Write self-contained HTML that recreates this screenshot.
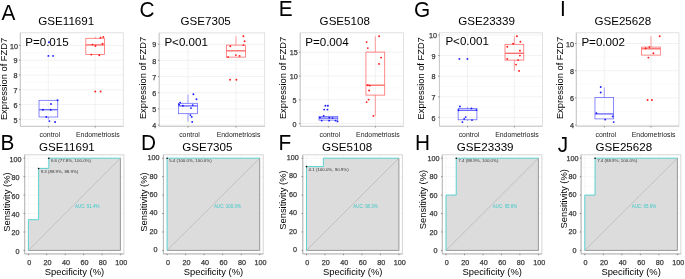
<!DOCTYPE html>
<html><head><meta charset="utf-8"><style>
html,body{margin:0;padding:0;background:#fff;}
svg{display:block;will-change:transform;}
text{font-family:"Liberation Sans", sans-serif;}
</style></head><body>
<svg width="685" height="279" viewBox="0 0 685 279">
<rect width="685" height="279" fill="#fff"/>
<line x1="20.3" x2="123.3" y1="45.4" y2="45.4" stroke="#ececec" stroke-width="0.7"/>
<line x1="20.3" x2="123.3" y1="60.2" y2="60.2" stroke="#ececec" stroke-width="0.7"/>
<line x1="20.3" x2="123.3" y1="75.0" y2="75.0" stroke="#ececec" stroke-width="0.7"/>
<line x1="20.3" x2="123.3" y1="89.8" y2="89.8" stroke="#ececec" stroke-width="0.7"/>
<line x1="20.3" x2="123.3" y1="104.6" y2="104.6" stroke="#ececec" stroke-width="0.7"/>
<line x1="20.3" x2="123.3" y1="119.4" y2="119.4" stroke="#ececec" stroke-width="0.7"/>
<line x1="20.3" x2="123.3" y1="52.8" y2="52.8" stroke="#f5f5f5" stroke-width="0.5"/>
<line x1="20.3" x2="123.3" y1="67.6" y2="67.6" stroke="#f5f5f5" stroke-width="0.5"/>
<line x1="20.3" x2="123.3" y1="82.4" y2="82.4" stroke="#f5f5f5" stroke-width="0.5"/>
<line x1="20.3" x2="123.3" y1="97.19999999999999" y2="97.19999999999999" stroke="#f5f5f5" stroke-width="0.5"/>
<line x1="20.3" x2="123.3" y1="112.0" y2="112.0" stroke="#f5f5f5" stroke-width="0.5"/>
<line x1="48.39" x2="48.39" y1="32.8" y2="126.3" stroke="#ececec" stroke-width="0.7"/>
<line x1="95.21" x2="95.21" y1="32.8" y2="126.3" stroke="#ececec" stroke-width="0.7"/>
<rect x="20.3" y="32.8" width="103.00" height="93.50" fill="none" stroke="#dadada" stroke-width="0.8"/>
<polyline points="20.3,32.8 20.3,126.3 123.3,126.3" fill="none" stroke="#c4c4c4" stroke-width="0.9"/>
<line x1="19.0" x2="20.3" y1="45.4" y2="45.4" stroke="#333" stroke-width="0.5"/>
<text x="17.90" y="48.60" font-size="7.2" fill="#3a3a3a" text-anchor="end" stroke="#3a3a3a" stroke-width="0.25">10</text>
<line x1="19.0" x2="20.3" y1="60.2" y2="60.2" stroke="#333" stroke-width="0.5"/>
<text x="17.40" y="63.40" font-size="7.2" fill="#3a3a3a" text-anchor="end" stroke="#3a3a3a" stroke-width="0.25">9</text>
<line x1="19.0" x2="20.3" y1="75.0" y2="75.0" stroke="#333" stroke-width="0.5"/>
<text x="17.40" y="78.20" font-size="7.2" fill="#3a3a3a" text-anchor="end" stroke="#3a3a3a" stroke-width="0.25">8</text>
<line x1="19.0" x2="20.3" y1="89.8" y2="89.8" stroke="#333" stroke-width="0.5"/>
<text x="17.40" y="93.00" font-size="7.2" fill="#3a3a3a" text-anchor="end" stroke="#3a3a3a" stroke-width="0.25">7</text>
<line x1="19.0" x2="20.3" y1="104.6" y2="104.6" stroke="#333" stroke-width="0.5"/>
<text x="17.40" y="107.80" font-size="7.2" fill="#3a3a3a" text-anchor="end" stroke="#3a3a3a" stroke-width="0.25">6</text>
<line x1="19.0" x2="20.3" y1="119.4" y2="119.4" stroke="#333" stroke-width="0.5"/>
<text x="17.40" y="122.60" font-size="7.2" fill="#3a3a3a" text-anchor="end" stroke="#3a3a3a" stroke-width="0.25">5</text>
<line x1="48.39" x2="48.39" y1="126.3" y2="127.6" stroke="#333" stroke-width="0.5"/>
<line x1="95.21" x2="95.21" y1="126.3" y2="127.6" stroke="#333" stroke-width="0.5"/>
<text x="49.89" y="136.80" font-size="6.9" fill="#1a1a1a" text-anchor="middle" >control</text>
<text x="97.81" y="136.80" font-size="6.9" fill="#1a1a1a" text-anchor="middle" >Endometriosis</text>
<line x1="48.39" x2="48.39" y1="117.0" y2="119.5" stroke="#6262ff" stroke-width="0.6"/>
<line x1="48.39" x2="48.39" y1="100.3" y2="100.3" stroke="#6262ff" stroke-width="0.6"/>
<rect x="39.03" y="100.3" width="18.73" height="16.70" fill="none" stroke="#6262ff" stroke-width="0.75"/>
<line x1="39.03" x2="57.75" y1="109.7" y2="109.7" stroke="#6262ff" stroke-width="1.3"/>
<circle cx="57.6" cy="100.3" r="0.95" fill="#1a1aff"/>
<circle cx="51" cy="104" r="0.95" fill="#1a1aff"/>
<circle cx="42.9" cy="109.7" r="0.95" fill="#1a1aff"/>
<circle cx="50.7" cy="109.7" r="0.95" fill="#1a1aff"/>
<circle cx="46.3" cy="117" r="0.95" fill="#1a1aff"/>
<circle cx="49.4" cy="121.1" r="0.95" fill="#1a1aff"/>
<circle cx="55.1" cy="122" r="0.95" fill="#1a1aff"/>
<circle cx="48.9" cy="42.2" r="0.95" fill="#1a1aff"/>
<circle cx="48.4" cy="55.9" r="0.95" fill="#1a1aff"/>
<circle cx="53" cy="55.9" r="0.95" fill="#1a1aff"/>
<line x1="95.21" x2="95.21" y1="54.5" y2="54.5" stroke="#ff6262" stroke-width="0.6"/>
<line x1="95.21" x2="95.21" y1="38.3" y2="36.9" stroke="#ff6262" stroke-width="0.6"/>
<rect x="85.85" y="38.3" width="18.73" height="16.20" fill="none" stroke="#ff6262" stroke-width="0.75"/>
<line x1="85.85" x2="104.57" y1="44.9" y2="44.9" stroke="#ff6262" stroke-width="1.3"/>
<circle cx="100.5" cy="37.8" r="0.95" fill="#ff1a1a"/>
<circle cx="103.3" cy="36.9" r="0.95" fill="#ff1a1a"/>
<circle cx="102.5" cy="43.7" r="0.95" fill="#ff1a1a"/>
<circle cx="92.5" cy="44.6" r="0.95" fill="#ff1a1a"/>
<circle cx="95.4" cy="46" r="0.95" fill="#ff1a1a"/>
<circle cx="91.3" cy="54.6" r="0.95" fill="#ff1a1a"/>
<circle cx="99.3" cy="55.3" r="0.95" fill="#ff1a1a"/>
<circle cx="95.3" cy="91.5" r="0.95" fill="#ff1a1a"/>
<circle cx="100.6" cy="91.5" r="0.95" fill="#ff1a1a"/>
<text transform="translate(1.60,19.50) scale(1.0,1.07)" font-size="20.8" fill="#000" text-anchor="start" >A</text>
<text x="66.25" y="25.20" font-size="11.6" fill="#000" text-anchor="middle" >GSE11691</text>
<text x="25.20" y="45.60" font-size="11.6" fill="#000" text-anchor="start" >P=0.015</text>
<text transform="translate(6.70,79.00) rotate(-90)" font-size="9.3" text-anchor="middle" fill="#000">Expression of FZD7</text>
<line x1="159.2" x2="264.7" y1="44.2" y2="44.2" stroke="#ececec" stroke-width="0.7"/>
<line x1="159.2" x2="264.7" y1="60.4" y2="60.4" stroke="#ececec" stroke-width="0.7"/>
<line x1="159.2" x2="264.7" y1="76.6" y2="76.6" stroke="#ececec" stroke-width="0.7"/>
<line x1="159.2" x2="264.7" y1="92.7" y2="92.7" stroke="#ececec" stroke-width="0.7"/>
<line x1="159.2" x2="264.7" y1="108.9" y2="108.9" stroke="#ececec" stroke-width="0.7"/>
<line x1="159.2" x2="264.7" y1="125.1" y2="125.1" stroke="#ececec" stroke-width="0.7"/>
<line x1="159.2" x2="264.7" y1="52.3" y2="52.3" stroke="#f5f5f5" stroke-width="0.5"/>
<line x1="159.2" x2="264.7" y1="68.5" y2="68.5" stroke="#f5f5f5" stroke-width="0.5"/>
<line x1="159.2" x2="264.7" y1="84.65" y2="84.65" stroke="#f5f5f5" stroke-width="0.5"/>
<line x1="159.2" x2="264.7" y1="100.80000000000001" y2="100.80000000000001" stroke="#f5f5f5" stroke-width="0.5"/>
<line x1="159.2" x2="264.7" y1="117.0" y2="117.0" stroke="#f5f5f5" stroke-width="0.5"/>
<line x1="187.97" x2="187.97" y1="32.9" y2="126.3" stroke="#ececec" stroke-width="0.7"/>
<line x1="235.93" x2="235.93" y1="32.9" y2="126.3" stroke="#ececec" stroke-width="0.7"/>
<rect x="159.2" y="32.9" width="105.50" height="93.40" fill="none" stroke="#dadada" stroke-width="0.8"/>
<polyline points="159.2,32.9 159.2,126.3 264.7,126.3" fill="none" stroke="#c4c4c4" stroke-width="0.9"/>
<line x1="157.89999999999998" x2="159.2" y1="44.2" y2="44.2" stroke="#333" stroke-width="0.5"/>
<text x="156.30" y="47.40" font-size="7.2" fill="#3a3a3a" text-anchor="end" stroke="#3a3a3a" stroke-width="0.25">9</text>
<line x1="157.89999999999998" x2="159.2" y1="60.4" y2="60.4" stroke="#333" stroke-width="0.5"/>
<text x="156.30" y="63.60" font-size="7.2" fill="#3a3a3a" text-anchor="end" stroke="#3a3a3a" stroke-width="0.25">8</text>
<line x1="157.89999999999998" x2="159.2" y1="76.6" y2="76.6" stroke="#333" stroke-width="0.5"/>
<text x="156.30" y="79.80" font-size="7.2" fill="#3a3a3a" text-anchor="end" stroke="#3a3a3a" stroke-width="0.25">7</text>
<line x1="157.89999999999998" x2="159.2" y1="92.7" y2="92.7" stroke="#333" stroke-width="0.5"/>
<text x="156.30" y="95.90" font-size="7.2" fill="#3a3a3a" text-anchor="end" stroke="#3a3a3a" stroke-width="0.25">6</text>
<line x1="157.89999999999998" x2="159.2" y1="108.9" y2="108.9" stroke="#333" stroke-width="0.5"/>
<text x="156.30" y="112.10" font-size="7.2" fill="#3a3a3a" text-anchor="end" stroke="#3a3a3a" stroke-width="0.25">5</text>
<line x1="157.89999999999998" x2="159.2" y1="125.1" y2="125.1" stroke="#333" stroke-width="0.5"/>
<text x="156.30" y="128.30" font-size="7.2" fill="#3a3a3a" text-anchor="end" stroke="#3a3a3a" stroke-width="0.25">4</text>
<line x1="187.97" x2="187.97" y1="126.3" y2="127.6" stroke="#333" stroke-width="0.5"/>
<line x1="235.93" x2="235.93" y1="126.3" y2="127.6" stroke="#333" stroke-width="0.5"/>
<text x="189.47" y="136.80" font-size="6.9" fill="#1a1a1a" text-anchor="middle" >control</text>
<text x="238.53" y="136.80" font-size="6.9" fill="#1a1a1a" text-anchor="middle" >Endometriosis</text>
<line x1="187.97" x2="187.97" y1="113.7" y2="121.7" stroke="#6262ff" stroke-width="0.6"/>
<line x1="187.97" x2="187.97" y1="103.3" y2="94.5" stroke="#6262ff" stroke-width="0.6"/>
<rect x="178.38" y="103.3" width="19.18" height="10.40" fill="none" stroke="#6262ff" stroke-width="0.75"/>
<line x1="178.38" x2="197.56" y1="105.9" y2="105.9" stroke="#6262ff" stroke-width="1.3"/>
<circle cx="193.4" cy="94.3" r="0.95" fill="#1a1aff"/>
<circle cx="196.5" cy="99.3" r="0.95" fill="#1a1aff"/>
<circle cx="180.2" cy="102.6" r="0.95" fill="#1a1aff"/>
<circle cx="182.9" cy="105.8" r="0.95" fill="#1a1aff"/>
<circle cx="179.1" cy="104.6" r="0.95" fill="#1a1aff"/>
<circle cx="192.7" cy="105.1" r="0.95" fill="#1a1aff"/>
<circle cx="191" cy="108.1" r="0.95" fill="#1a1aff"/>
<circle cx="190.4" cy="115.1" r="0.95" fill="#1a1aff"/>
<circle cx="191.7" cy="116.9" r="0.95" fill="#1a1aff"/>
<circle cx="192.2" cy="121.9" r="0.95" fill="#1a1aff"/>
<line x1="235.93" x2="235.93" y1="57.1" y2="57.1" stroke="#ff6262" stroke-width="0.6"/>
<line x1="235.93" x2="235.93" y1="45.1" y2="36.3" stroke="#ff6262" stroke-width="0.6"/>
<rect x="226.34" y="45.1" width="19.18" height="12.00" fill="none" stroke="#ff6262" stroke-width="0.75"/>
<line x1="226.34" x2="245.52" y1="50.8" y2="50.8" stroke="#ff6262" stroke-width="1.3"/>
<circle cx="243.4" cy="36.3" r="0.95" fill="#ff1a1a"/>
<circle cx="244.6" cy="41.3" r="0.95" fill="#ff1a1a"/>
<circle cx="243.4" cy="45.1" r="0.95" fill="#ff1a1a"/>
<circle cx="230.3" cy="46.3" r="0.95" fill="#ff1a1a"/>
<circle cx="228.1" cy="57.1" r="0.95" fill="#ff1a1a"/>
<circle cx="235.9" cy="55.1" r="0.95" fill="#ff1a1a"/>
<circle cx="239.6" cy="55.9" r="0.95" fill="#ff1a1a"/>
<circle cx="230.1" cy="79.7" r="0.95" fill="#ff1a1a"/>
<circle cx="236.4" cy="79.7" r="0.95" fill="#ff1a1a"/>
<text transform="translate(139.60,16.90) scale(1.0,1.07)" font-size="20.8" fill="#000" text-anchor="start" >C</text>
<text x="205.70" y="25.20" font-size="11.6" fill="#000" text-anchor="middle" >GSE7305</text>
<text x="164.40" y="45.60" font-size="11.6" fill="#000" text-anchor="start" >P&lt;0.001</text>
<text transform="translate(146.10,78.00) rotate(-90)" font-size="9.3" text-anchor="middle" fill="#000">Expression of FZD7</text>
<line x1="300.2" x2="403.5" y1="52.2" y2="52.2" stroke="#ececec" stroke-width="0.7"/>
<line x1="300.2" x2="403.5" y1="76.0" y2="76.0" stroke="#ececec" stroke-width="0.7"/>
<line x1="300.2" x2="403.5" y1="99.8" y2="99.8" stroke="#ececec" stroke-width="0.7"/>
<line x1="300.2" x2="403.5" y1="123.6" y2="123.6" stroke="#ececec" stroke-width="0.7"/>
<line x1="300.2" x2="403.5" y1="64.1" y2="64.1" stroke="#f5f5f5" stroke-width="0.5"/>
<line x1="300.2" x2="403.5" y1="87.9" y2="87.9" stroke="#f5f5f5" stroke-width="0.5"/>
<line x1="300.2" x2="403.5" y1="111.69999999999999" y2="111.69999999999999" stroke="#f5f5f5" stroke-width="0.5"/>
<line x1="328.37" x2="328.37" y1="32.8" y2="126.3" stroke="#ececec" stroke-width="0.7"/>
<line x1="375.33" x2="375.33" y1="32.8" y2="126.3" stroke="#ececec" stroke-width="0.7"/>
<rect x="300.2" y="32.8" width="103.30" height="93.50" fill="none" stroke="#dadada" stroke-width="0.8"/>
<polyline points="300.2,32.8 300.2,126.3 403.5,126.3" fill="none" stroke="#c4c4c4" stroke-width="0.9"/>
<line x1="298.9" x2="300.2" y1="52.2" y2="52.2" stroke="#333" stroke-width="0.5"/>
<text x="297.80" y="55.40" font-size="7.2" fill="#3a3a3a" text-anchor="end" stroke="#3a3a3a" stroke-width="0.25">15</text>
<line x1="298.9" x2="300.2" y1="76.0" y2="76.0" stroke="#333" stroke-width="0.5"/>
<text x="297.80" y="79.20" font-size="7.2" fill="#3a3a3a" text-anchor="end" stroke="#3a3a3a" stroke-width="0.25">10</text>
<line x1="298.9" x2="300.2" y1="99.8" y2="99.8" stroke="#333" stroke-width="0.5"/>
<text x="296.60" y="103.00" font-size="7.2" fill="#3a3a3a" text-anchor="end" stroke="#3a3a3a" stroke-width="0.25">5</text>
<line x1="298.9" x2="300.2" y1="123.6" y2="123.6" stroke="#333" stroke-width="0.5"/>
<text x="296.60" y="126.80" font-size="7.2" fill="#3a3a3a" text-anchor="end" stroke="#3a3a3a" stroke-width="0.25">0</text>
<line x1="328.37" x2="328.37" y1="126.3" y2="127.6" stroke="#333" stroke-width="0.5"/>
<line x1="375.33" x2="375.33" y1="126.3" y2="127.6" stroke="#333" stroke-width="0.5"/>
<text x="329.87" y="136.80" font-size="6.9" fill="#1a1a1a" text-anchor="middle" >control</text>
<text x="377.93" y="136.80" font-size="6.9" fill="#1a1a1a" text-anchor="middle" >Endometriosis</text>
<line x1="328.37" x2="328.37" y1="120.1" y2="121.4" stroke="#6262ff" stroke-width="0.6"/>
<line x1="328.37" x2="328.37" y1="116.4" y2="116.4" stroke="#6262ff" stroke-width="0.6"/>
<rect x="318.98" y="116.4" width="18.78" height="3.70" fill="none" stroke="#6262ff" stroke-width="0.75"/>
<line x1="318.98" x2="337.76" y1="118.1" y2="118.1" stroke="#6262ff" stroke-width="1.3"/>
<circle cx="325.4" cy="105.8" r="0.95" fill="#1a1aff"/>
<circle cx="327.9" cy="105.8" r="0.95" fill="#1a1aff"/>
<circle cx="324.2" cy="109.6" r="0.95" fill="#1a1aff"/>
<circle cx="327.4" cy="109.6" r="0.95" fill="#1a1aff"/>
<circle cx="323.7" cy="115.9" r="0.95" fill="#1a1aff"/>
<circle cx="319.9" cy="117.6" r="0.95" fill="#1a1aff"/>
<circle cx="329.2" cy="117.6" r="0.95" fill="#1a1aff"/>
<circle cx="332.5" cy="118.1" r="0.95" fill="#1a1aff"/>
<circle cx="321.7" cy="120.6" r="0.95" fill="#1a1aff"/>
<circle cx="329.2" cy="120.6" r="0.95" fill="#1a1aff"/>
<circle cx="335.5" cy="120.6" r="0.95" fill="#1a1aff"/>
<circle cx="337.5" cy="121.4" r="0.95" fill="#1a1aff"/>
<line x1="375.33" x2="375.33" y1="95.1" y2="115.9" stroke="#ff6262" stroke-width="0.6"/>
<line x1="375.33" x2="375.33" y1="52.1" y2="36.3" stroke="#ff6262" stroke-width="0.6"/>
<rect x="365.94" y="52.1" width="18.78" height="43.00" fill="none" stroke="#ff6262" stroke-width="0.75"/>
<line x1="365.94" x2="384.72" y1="85.2" y2="85.2" stroke="#ff6262" stroke-width="1.3"/>
<circle cx="379.1" cy="36.3" r="0.95" fill="#ff1a1a"/>
<circle cx="366.6" cy="42.1" r="0.95" fill="#ff1a1a"/>
<circle cx="367.8" cy="48.1" r="0.95" fill="#ff1a1a"/>
<circle cx="381.1" cy="57.6" r="0.95" fill="#ff1a1a"/>
<circle cx="379.1" cy="63.9" r="0.95" fill="#ff1a1a"/>
<circle cx="367.8" cy="85.2" r="0.95" fill="#ff1a1a"/>
<circle cx="369.8" cy="85.6" r="0.95" fill="#ff1a1a"/>
<circle cx="369.1" cy="90.5" r="0.95" fill="#ff1a1a"/>
<circle cx="368.6" cy="99.6" r="0.95" fill="#ff1a1a"/>
<circle cx="366.6" cy="102.1" r="0.95" fill="#ff1a1a"/>
<circle cx="373.4" cy="115.9" r="0.95" fill="#ff1a1a"/>
<text transform="translate(278.80,16.30) scale(1.0,1.07)" font-size="20.8" fill="#000" text-anchor="start" >E</text>
<text x="344.75" y="25.20" font-size="11.6" fill="#000" text-anchor="middle" >GSE5108</text>
<text x="305.20" y="46.00" font-size="11.6" fill="#000" text-anchor="start" >P=0.004</text>
<text transform="translate(285.90,78.00) rotate(-90)" font-size="9.3" text-anchor="middle" fill="#000">Expression of FZD7</text>
<line x1="439.4" x2="542.5" y1="35.0" y2="35.0" stroke="#ececec" stroke-width="0.7"/>
<line x1="439.4" x2="542.5" y1="55.6" y2="55.6" stroke="#ececec" stroke-width="0.7"/>
<line x1="439.4" x2="542.5" y1="76.2" y2="76.2" stroke="#ececec" stroke-width="0.7"/>
<line x1="439.4" x2="542.5" y1="96.8" y2="96.8" stroke="#ececec" stroke-width="0.7"/>
<line x1="439.4" x2="542.5" y1="117.4" y2="117.4" stroke="#ececec" stroke-width="0.7"/>
<line x1="439.4" x2="542.5" y1="45.3" y2="45.3" stroke="#f5f5f5" stroke-width="0.5"/>
<line x1="439.4" x2="542.5" y1="65.9" y2="65.9" stroke="#f5f5f5" stroke-width="0.5"/>
<line x1="439.4" x2="542.5" y1="86.5" y2="86.5" stroke="#f5f5f5" stroke-width="0.5"/>
<line x1="439.4" x2="542.5" y1="107.1" y2="107.1" stroke="#f5f5f5" stroke-width="0.5"/>
<line x1="467.52" x2="467.52" y1="32.8" y2="126.2" stroke="#ececec" stroke-width="0.7"/>
<line x1="514.38" x2="514.38" y1="32.8" y2="126.2" stroke="#ececec" stroke-width="0.7"/>
<rect x="439.4" y="32.8" width="103.10" height="93.40" fill="none" stroke="#dadada" stroke-width="0.8"/>
<polyline points="439.4,32.8 439.4,126.2 542.5,126.2" fill="none" stroke="#c4c4c4" stroke-width="0.9"/>
<line x1="438.09999999999997" x2="439.4" y1="35.0" y2="35.0" stroke="#333" stroke-width="0.5"/>
<text x="437.00" y="38.20" font-size="7.2" fill="#3a3a3a" text-anchor="end" stroke="#3a3a3a" stroke-width="0.25">10</text>
<line x1="438.09999999999997" x2="439.4" y1="55.6" y2="55.6" stroke="#333" stroke-width="0.5"/>
<text x="435.50" y="58.80" font-size="7.2" fill="#3a3a3a" text-anchor="end" stroke="#3a3a3a" stroke-width="0.25">9</text>
<line x1="438.09999999999997" x2="439.4" y1="76.2" y2="76.2" stroke="#333" stroke-width="0.5"/>
<text x="435.50" y="79.40" font-size="7.2" fill="#3a3a3a" text-anchor="end" stroke="#3a3a3a" stroke-width="0.25">8</text>
<line x1="438.09999999999997" x2="439.4" y1="96.8" y2="96.8" stroke="#333" stroke-width="0.5"/>
<text x="435.50" y="100.00" font-size="7.2" fill="#3a3a3a" text-anchor="end" stroke="#3a3a3a" stroke-width="0.25">7</text>
<line x1="438.09999999999997" x2="439.4" y1="117.4" y2="117.4" stroke="#333" stroke-width="0.5"/>
<text x="435.50" y="120.60" font-size="7.2" fill="#3a3a3a" text-anchor="end" stroke="#3a3a3a" stroke-width="0.25">6</text>
<line x1="467.52" x2="467.52" y1="126.2" y2="127.5" stroke="#333" stroke-width="0.5"/>
<line x1="514.38" x2="514.38" y1="126.2" y2="127.5" stroke="#333" stroke-width="0.5"/>
<text x="469.02" y="136.70" font-size="6.9" fill="#1a1a1a" text-anchor="middle" >control</text>
<text x="516.98" y="136.70" font-size="6.9" fill="#1a1a1a" text-anchor="middle" >Endometriosis</text>
<line x1="467.52" x2="467.52" y1="119.8" y2="121.0" stroke="#6262ff" stroke-width="0.6"/>
<line x1="467.52" x2="467.52" y1="108.6" y2="106.8" stroke="#6262ff" stroke-width="0.6"/>
<rect x="458.15" y="108.6" width="18.75" height="11.20" fill="none" stroke="#6262ff" stroke-width="0.75"/>
<line x1="458.15" x2="476.89" y1="110.3" y2="110.3" stroke="#6262ff" stroke-width="1.3"/>
<circle cx="459.9" cy="106.5" r="0.95" fill="#1a1aff"/>
<circle cx="471.4" cy="108.4" r="0.95" fill="#1a1aff"/>
<circle cx="458.5" cy="110.3" r="0.95" fill="#1a1aff"/>
<circle cx="476.5" cy="110.1" r="0.95" fill="#1a1aff"/>
<circle cx="465.7" cy="117.1" r="0.95" fill="#1a1aff"/>
<circle cx="464.2" cy="118.9" r="0.95" fill="#1a1aff"/>
<circle cx="472" cy="120.1" r="0.95" fill="#1a1aff"/>
<circle cx="462.4" cy="122.1" r="0.95" fill="#1a1aff"/>
<circle cx="459.4" cy="58.9" r="0.95" fill="#1a1aff"/>
<circle cx="467.4" cy="58.9" r="0.95" fill="#1a1aff"/>
<line x1="514.38" x2="514.38" y1="60.1" y2="70.7" stroke="#ff6262" stroke-width="0.6"/>
<line x1="514.38" x2="514.38" y1="44.3" y2="36.3" stroke="#ff6262" stroke-width="0.6"/>
<rect x="505.01" y="44.3" width="18.75" height="15.80" fill="none" stroke="#ff6262" stroke-width="0.75"/>
<line x1="505.01" x2="523.75" y1="53.3" y2="53.3" stroke="#ff6262" stroke-width="1.3"/>
<circle cx="516.9" cy="36.3" r="0.95" fill="#ff1a1a"/>
<circle cx="520.4" cy="41.8" r="0.95" fill="#ff1a1a"/>
<circle cx="513.1" cy="43.8" r="0.95" fill="#ff1a1a"/>
<circle cx="507.3" cy="46.8" r="0.95" fill="#ff1a1a"/>
<circle cx="519.9" cy="50.8" r="0.95" fill="#ff1a1a"/>
<circle cx="519.9" cy="55.6" r="0.95" fill="#ff1a1a"/>
<circle cx="507.3" cy="58.9" r="0.95" fill="#ff1a1a"/>
<circle cx="518.1" cy="60.1" r="0.95" fill="#ff1a1a"/>
<circle cx="516.1" cy="64.6" r="0.95" fill="#ff1a1a"/>
<circle cx="519.1" cy="70.9" r="0.95" fill="#ff1a1a"/>
<text transform="translate(413.90,16.90) scale(1.0,1.07)" font-size="20.8" fill="#000" text-anchor="start" >G</text>
<text x="486.60" y="25.20" font-size="11.6" fill="#000" text-anchor="middle" >GSE23339</text>
<text x="445.40" y="44.80" font-size="11.6" fill="#000" text-anchor="start" >P&lt;0.001</text>
<text transform="translate(423.90,78.30) rotate(-90)" font-size="9.3" text-anchor="middle" fill="#000">Expression of FZD7</text>
<line x1="576.3" x2="679.0" y1="43.5" y2="43.5" stroke="#ececec" stroke-width="0.7"/>
<line x1="576.3" x2="679.0" y1="70.7" y2="70.7" stroke="#ececec" stroke-width="0.7"/>
<line x1="576.3" x2="679.0" y1="97.9" y2="97.9" stroke="#ececec" stroke-width="0.7"/>
<line x1="576.3" x2="679.0" y1="125.1" y2="125.1" stroke="#ececec" stroke-width="0.7"/>
<line x1="576.3" x2="679.0" y1="57.1" y2="57.1" stroke="#f5f5f5" stroke-width="0.5"/>
<line x1="576.3" x2="679.0" y1="84.30000000000001" y2="84.30000000000001" stroke="#f5f5f5" stroke-width="0.5"/>
<line x1="576.3" x2="679.0" y1="111.5" y2="111.5" stroke="#f5f5f5" stroke-width="0.5"/>
<line x1="604.31" x2="604.31" y1="32.8" y2="126.2" stroke="#ececec" stroke-width="0.7"/>
<line x1="650.99" x2="650.99" y1="32.8" y2="126.2" stroke="#ececec" stroke-width="0.7"/>
<rect x="576.3" y="32.8" width="102.70" height="93.40" fill="none" stroke="#dadada" stroke-width="0.8"/>
<polyline points="576.3,32.8 576.3,126.2 679.0,126.2" fill="none" stroke="#c4c4c4" stroke-width="0.9"/>
<line x1="575.0" x2="576.3" y1="43.5" y2="43.5" stroke="#333" stroke-width="0.5"/>
<text x="573.90" y="46.70" font-size="7.2" fill="#3a3a3a" text-anchor="end" stroke="#3a3a3a" stroke-width="0.25">10</text>
<line x1="575.0" x2="576.3" y1="70.7" y2="70.7" stroke="#333" stroke-width="0.5"/>
<text x="573.90" y="73.90" font-size="7.2" fill="#3a3a3a" text-anchor="end" stroke="#3a3a3a" stroke-width="0.25">8</text>
<line x1="575.0" x2="576.3" y1="97.9" y2="97.9" stroke="#333" stroke-width="0.5"/>
<text x="573.90" y="101.10" font-size="7.2" fill="#3a3a3a" text-anchor="end" stroke="#3a3a3a" stroke-width="0.25">6</text>
<line x1="575.0" x2="576.3" y1="125.1" y2="125.1" stroke="#333" stroke-width="0.5"/>
<text x="573.90" y="128.30" font-size="7.2" fill="#3a3a3a" text-anchor="end" stroke="#3a3a3a" stroke-width="0.25">4</text>
<line x1="604.31" x2="604.31" y1="126.2" y2="127.5" stroke="#333" stroke-width="0.5"/>
<line x1="650.99" x2="650.99" y1="126.2" y2="127.5" stroke="#333" stroke-width="0.5"/>
<text x="605.81" y="136.70" font-size="6.9" fill="#1a1a1a" text-anchor="middle" >control</text>
<text x="653.59" y="136.70" font-size="6.9" fill="#1a1a1a" text-anchor="middle" >Endometriosis</text>
<line x1="604.31" x2="604.31" y1="118.9" y2="118.9" stroke="#6262ff" stroke-width="0.6"/>
<line x1="604.31" x2="604.31" y1="97.6" y2="87.5" stroke="#6262ff" stroke-width="0.6"/>
<rect x="594.97" y="97.6" width="18.67" height="21.30" fill="none" stroke="#6262ff" stroke-width="0.75"/>
<line x1="594.97" x2="613.65" y1="113.9" y2="113.9" stroke="#6262ff" stroke-width="1.3"/>
<circle cx="600.7" cy="87" r="0.95" fill="#1a1aff"/>
<circle cx="600.7" cy="92.5" r="0.95" fill="#1a1aff"/>
<circle cx="596.4" cy="113.1" r="0.95" fill="#1a1aff"/>
<circle cx="612.7" cy="116.4" r="0.95" fill="#1a1aff"/>
<circle cx="605.2" cy="119.6" r="0.95" fill="#1a1aff"/>
<circle cx="613.7" cy="122.1" r="0.95" fill="#1a1aff"/>
<line x1="650.99" x2="650.99" y1="55.1" y2="55.1" stroke="#ff6262" stroke-width="0.6"/>
<line x1="650.99" x2="650.99" y1="47.1" y2="36.3" stroke="#ff6262" stroke-width="0.6"/>
<rect x="641.65" y="47.1" width="18.67" height="8.00" fill="none" stroke="#ff6262" stroke-width="0.75"/>
<line x1="641.65" x2="660.33" y1="48.8" y2="48.8" stroke="#ff6262" stroke-width="1.3"/>
<circle cx="659.7" cy="36.3" r="0.95" fill="#ff1a1a"/>
<circle cx="649.4" cy="47.1" r="0.95" fill="#ff1a1a"/>
<circle cx="645.6" cy="48.3" r="0.95" fill="#ff1a1a"/>
<circle cx="653.4" cy="53.3" r="0.95" fill="#ff1a1a"/>
<circle cx="648.4" cy="57.6" r="0.95" fill="#ff1a1a"/>
<circle cx="647.6" cy="100" r="0.95" fill="#ff1a1a"/>
<circle cx="651.9" cy="100" r="0.95" fill="#ff1a1a"/>
<text transform="translate(560.10,15.70) scale(1.0,1.07)" font-size="20.8" fill="#000" text-anchor="start" >I</text>
<text x="622.80" y="25.20" font-size="11.6" fill="#000" text-anchor="middle" >GSE25628</text>
<text x="581.40" y="45.60" font-size="11.6" fill="#000" text-anchor="start" >P=0.002</text>
<text transform="translate(563.00,78.00) rotate(-90)" font-size="9.3" text-anchor="middle" fill="#000">Expression of FZD7</text>
<line x1="24.7" x2="123.9" y1="250.40" y2="250.40" stroke="#f0f0f0" stroke-width="0.6"/>
<line x1="28.40" x2="28.40" y1="154.8" y2="253.9" stroke="#f0f0f0" stroke-width="0.6"/>
<line x1="24.7" x2="123.9" y1="241.18" y2="241.18" stroke="#f7f7f7" stroke-width="0.6"/>
<line x1="37.60" x2="37.60" y1="154.8" y2="253.9" stroke="#f7f7f7" stroke-width="0.6"/>
<line x1="24.7" x2="123.9" y1="231.96" y2="231.96" stroke="#f0f0f0" stroke-width="0.6"/>
<line x1="46.80" x2="46.80" y1="154.8" y2="253.9" stroke="#f0f0f0" stroke-width="0.6"/>
<line x1="24.7" x2="123.9" y1="222.74" y2="222.74" stroke="#f7f7f7" stroke-width="0.6"/>
<line x1="56.00" x2="56.00" y1="154.8" y2="253.9" stroke="#f7f7f7" stroke-width="0.6"/>
<line x1="24.7" x2="123.9" y1="213.52" y2="213.52" stroke="#f0f0f0" stroke-width="0.6"/>
<line x1="65.20" x2="65.20" y1="154.8" y2="253.9" stroke="#f0f0f0" stroke-width="0.6"/>
<line x1="24.7" x2="123.9" y1="204.30" y2="204.30" stroke="#f7f7f7" stroke-width="0.6"/>
<line x1="74.40" x2="74.40" y1="154.8" y2="253.9" stroke="#f7f7f7" stroke-width="0.6"/>
<line x1="24.7" x2="123.9" y1="195.08" y2="195.08" stroke="#f0f0f0" stroke-width="0.6"/>
<line x1="83.60" x2="83.60" y1="154.8" y2="253.9" stroke="#f0f0f0" stroke-width="0.6"/>
<line x1="24.7" x2="123.9" y1="185.86" y2="185.86" stroke="#f7f7f7" stroke-width="0.6"/>
<line x1="92.80" x2="92.80" y1="154.8" y2="253.9" stroke="#f7f7f7" stroke-width="0.6"/>
<line x1="24.7" x2="123.9" y1="176.64" y2="176.64" stroke="#f0f0f0" stroke-width="0.6"/>
<line x1="102.00" x2="102.00" y1="154.8" y2="253.9" stroke="#f0f0f0" stroke-width="0.6"/>
<line x1="24.7" x2="123.9" y1="167.42" y2="167.42" stroke="#f7f7f7" stroke-width="0.6"/>
<line x1="111.20" x2="111.20" y1="154.8" y2="253.9" stroke="#f7f7f7" stroke-width="0.6"/>
<line x1="24.7" x2="123.9" y1="158.20" y2="158.20" stroke="#f0f0f0" stroke-width="0.6"/>
<line x1="120.40" x2="120.40" y1="154.8" y2="253.9" stroke="#f0f0f0" stroke-width="0.6"/>
<polygon points="28.40,250.40 28.40,219.70 38.61,219.70 38.61,168.43 48.82,168.43 48.82,158.20 120.40,158.20 120.40,250.40" fill="#dcdcdc" stroke="none"/>
<polyline points="28.40,250.40 120.40,250.40 120.40,158.20" fill="none" stroke="#8e8e8e" stroke-width="0.9"/>
<line x1="28.40" y1="250.40" x2="120.40" y2="158.20" stroke="#a4a4a4" stroke-width="0.5"/>
<polyline points="28.40,250.40 28.40,219.70 38.61,219.70 38.61,168.43 48.82,168.43 48.82,158.20 120.40,158.20" fill="none" stroke="#5cd2d2" stroke-width="1.0"/>
<rect x="24.70" y="154.8" width="99.20" height="99.10" fill="none" stroke="#d2d2d2" stroke-width="0.9"/>
<polyline points="24.70,154.8 24.70,253.9 123.90,253.9" fill="none" stroke="#b4b4b4" stroke-width="0.9"/>
<circle cx="38.61" cy="168.43" r="0.8" fill="#000"/>
<text x="40.71" y="172.53" font-size="4.4" fill="#333" text-anchor="start" >9.3 (88.9%, 88.9%)</text>
<circle cx="48.82" cy="158.20" r="0.8" fill="#000"/>
<text x="50.92" y="162.30" font-size="4.4" fill="#333" text-anchor="start" >6.6 (77.8%, 100.0%)</text>
<text x="75.00" y="207.90" font-size="4.45" fill="#3cc8c8" text-anchor="start" >AUC: 91.4%</text>
<line x1="23.40" x2="24.70" y1="250.40" y2="250.40" stroke="#333" stroke-width="0.5"/>
<text x="19.60" y="253.90" font-size="7.2" fill="#3a3a3a" text-anchor="end" stroke="#3a3a3a" stroke-width="0.25">0</text>
<line x1="28.40" x2="28.40" y1="253.9" y2="255.20000000000002" stroke="#333" stroke-width="0.5"/>
<text x="29.20" y="265.10" font-size="7.2" fill="#3a3a3a" text-anchor="middle" stroke="#3a3a3a" stroke-width="0.25">0</text>
<line x1="23.40" x2="24.70" y1="231.96" y2="231.96" stroke="#333" stroke-width="0.5"/>
<text x="19.60" y="235.46" font-size="7.2" fill="#3a3a3a" text-anchor="end" stroke="#3a3a3a" stroke-width="0.25">20</text>
<line x1="46.80" x2="46.80" y1="253.9" y2="255.20000000000002" stroke="#333" stroke-width="0.5"/>
<text x="47.60" y="265.10" font-size="7.2" fill="#3a3a3a" text-anchor="middle" stroke="#3a3a3a" stroke-width="0.25">20</text>
<line x1="23.40" x2="24.70" y1="213.52" y2="213.52" stroke="#333" stroke-width="0.5"/>
<text x="19.60" y="217.02" font-size="7.2" fill="#3a3a3a" text-anchor="end" stroke="#3a3a3a" stroke-width="0.25">40</text>
<line x1="65.20" x2="65.20" y1="253.9" y2="255.20000000000002" stroke="#333" stroke-width="0.5"/>
<text x="66.00" y="265.10" font-size="7.2" fill="#3a3a3a" text-anchor="middle" stroke="#3a3a3a" stroke-width="0.25">40</text>
<line x1="23.40" x2="24.70" y1="195.08" y2="195.08" stroke="#333" stroke-width="0.5"/>
<text x="19.60" y="198.58" font-size="7.2" fill="#3a3a3a" text-anchor="end" stroke="#3a3a3a" stroke-width="0.25">60</text>
<line x1="83.60" x2="83.60" y1="253.9" y2="255.20000000000002" stroke="#333" stroke-width="0.5"/>
<text x="84.40" y="265.10" font-size="7.2" fill="#3a3a3a" text-anchor="middle" stroke="#3a3a3a" stroke-width="0.25">60</text>
<line x1="23.40" x2="24.70" y1="176.64" y2="176.64" stroke="#333" stroke-width="0.5"/>
<text x="19.60" y="180.14" font-size="7.2" fill="#3a3a3a" text-anchor="end" stroke="#3a3a3a" stroke-width="0.25">80</text>
<line x1="102.00" x2="102.00" y1="253.9" y2="255.20000000000002" stroke="#333" stroke-width="0.5"/>
<text x="102.80" y="265.10" font-size="7.2" fill="#3a3a3a" text-anchor="middle" stroke="#3a3a3a" stroke-width="0.25">80</text>
<line x1="23.40" x2="24.70" y1="158.20" y2="158.20" stroke="#333" stroke-width="0.5"/>
<text x="21.50" y="161.70" font-size="7.2" fill="#3a3a3a" text-anchor="end" stroke="#3a3a3a" stroke-width="0.25">100</text>
<line x1="120.40" x2="120.40" y1="253.9" y2="255.20000000000002" stroke="#333" stroke-width="0.5"/>
<text x="121.20" y="265.10" font-size="7.2" fill="#3a3a3a" text-anchor="middle" stroke="#3a3a3a" stroke-width="0.25">100</text>
<text transform="translate(0.40,150.40) scale(1.0,1.07)" font-size="20.8" fill="#000" text-anchor="start" >B</text>
<text x="66.90" y="150.60" font-size="11.6" fill="#000" text-anchor="middle" >GSE11691</text>
<text x="74.40" y="275.10" font-size="9.4" fill="#000" text-anchor="middle" >Specificity (%)</text>
<text transform="translate(9.60,202.10) rotate(-90)" font-size="9.4" text-anchor="middle" fill="#000">Sensitivity (%)</text>
<line x1="163.4" x2="263.2" y1="250.40" y2="250.40" stroke="#f0f0f0" stroke-width="0.6"/>
<line x1="167.10" x2="167.10" y1="154.8" y2="253.9" stroke="#f0f0f0" stroke-width="0.6"/>
<line x1="163.4" x2="263.2" y1="241.18" y2="241.18" stroke="#f7f7f7" stroke-width="0.6"/>
<line x1="176.36" x2="176.36" y1="154.8" y2="253.9" stroke="#f7f7f7" stroke-width="0.6"/>
<line x1="163.4" x2="263.2" y1="231.96" y2="231.96" stroke="#f0f0f0" stroke-width="0.6"/>
<line x1="185.62" x2="185.62" y1="154.8" y2="253.9" stroke="#f0f0f0" stroke-width="0.6"/>
<line x1="163.4" x2="263.2" y1="222.74" y2="222.74" stroke="#f7f7f7" stroke-width="0.6"/>
<line x1="194.88" x2="194.88" y1="154.8" y2="253.9" stroke="#f7f7f7" stroke-width="0.6"/>
<line x1="163.4" x2="263.2" y1="213.52" y2="213.52" stroke="#f0f0f0" stroke-width="0.6"/>
<line x1="204.14" x2="204.14" y1="154.8" y2="253.9" stroke="#f0f0f0" stroke-width="0.6"/>
<line x1="163.4" x2="263.2" y1="204.30" y2="204.30" stroke="#f7f7f7" stroke-width="0.6"/>
<line x1="213.40" x2="213.40" y1="154.8" y2="253.9" stroke="#f7f7f7" stroke-width="0.6"/>
<line x1="163.4" x2="263.2" y1="195.08" y2="195.08" stroke="#f0f0f0" stroke-width="0.6"/>
<line x1="222.66" x2="222.66" y1="154.8" y2="253.9" stroke="#f0f0f0" stroke-width="0.6"/>
<line x1="163.4" x2="263.2" y1="185.86" y2="185.86" stroke="#f7f7f7" stroke-width="0.6"/>
<line x1="231.92" x2="231.92" y1="154.8" y2="253.9" stroke="#f7f7f7" stroke-width="0.6"/>
<line x1="163.4" x2="263.2" y1="176.64" y2="176.64" stroke="#f0f0f0" stroke-width="0.6"/>
<line x1="241.18" x2="241.18" y1="154.8" y2="253.9" stroke="#f0f0f0" stroke-width="0.6"/>
<line x1="163.4" x2="263.2" y1="167.42" y2="167.42" stroke="#f7f7f7" stroke-width="0.6"/>
<line x1="250.44" x2="250.44" y1="154.8" y2="253.9" stroke="#f7f7f7" stroke-width="0.6"/>
<line x1="163.4" x2="263.2" y1="158.20" y2="158.20" stroke="#f0f0f0" stroke-width="0.6"/>
<line x1="259.70" x2="259.70" y1="154.8" y2="253.9" stroke="#f0f0f0" stroke-width="0.6"/>
<polygon points="167.10,250.40 167.10,158.20 259.70,158.20 259.70,250.40" fill="#dcdcdc" stroke="none"/>
<polyline points="167.10,250.40 259.70,250.40 259.70,158.20" fill="none" stroke="#8e8e8e" stroke-width="0.9"/>
<line x1="167.10" y1="250.40" x2="259.70" y2="158.20" stroke="#a4a4a4" stroke-width="0.5"/>
<polyline points="167.10,250.40 167.10,158.20 259.70,158.20" fill="none" stroke="#5cd2d2" stroke-width="1.0"/>
<rect x="163.40" y="154.8" width="99.80" height="99.10" fill="none" stroke="#d2d2d2" stroke-width="0.9"/>
<polyline points="163.40,154.8 163.40,253.9 263.20,253.9" fill="none" stroke="#b4b4b4" stroke-width="0.9"/>
<circle cx="167.10" cy="158.20" r="0.8" fill="#000"/>
<text x="169.20" y="162.30" font-size="4.4" fill="#333" text-anchor="start" >5.4 (100.0%, 100.0%)</text>
<text x="214.00" y="207.90" font-size="4.45" fill="#3cc8c8" text-anchor="start" >AUC: 100.0%</text>
<line x1="162.10" x2="163.40" y1="250.40" y2="250.40" stroke="#333" stroke-width="0.5"/>
<text x="157.60" y="252.30" font-size="7.2" fill="#3a3a3a" text-anchor="end" stroke="#3a3a3a" stroke-width="0.25">0</text>
<line x1="167.10" x2="167.10" y1="253.9" y2="255.20000000000002" stroke="#333" stroke-width="0.5"/>
<text x="167.90" y="265.10" font-size="7.2" fill="#3a3a3a" text-anchor="middle" stroke="#3a3a3a" stroke-width="0.25">0</text>
<line x1="162.10" x2="163.40" y1="231.96" y2="231.96" stroke="#333" stroke-width="0.5"/>
<text x="157.60" y="233.86" font-size="7.2" fill="#3a3a3a" text-anchor="end" stroke="#3a3a3a" stroke-width="0.25">20</text>
<line x1="185.62" x2="185.62" y1="253.9" y2="255.20000000000002" stroke="#333" stroke-width="0.5"/>
<text x="186.42" y="265.10" font-size="7.2" fill="#3a3a3a" text-anchor="middle" stroke="#3a3a3a" stroke-width="0.25">20</text>
<line x1="162.10" x2="163.40" y1="213.52" y2="213.52" stroke="#333" stroke-width="0.5"/>
<text x="157.60" y="215.42" font-size="7.2" fill="#3a3a3a" text-anchor="end" stroke="#3a3a3a" stroke-width="0.25">40</text>
<line x1="204.14" x2="204.14" y1="253.9" y2="255.20000000000002" stroke="#333" stroke-width="0.5"/>
<text x="204.94" y="265.10" font-size="7.2" fill="#3a3a3a" text-anchor="middle" stroke="#3a3a3a" stroke-width="0.25">40</text>
<line x1="162.10" x2="163.40" y1="195.08" y2="195.08" stroke="#333" stroke-width="0.5"/>
<text x="157.60" y="196.98" font-size="7.2" fill="#3a3a3a" text-anchor="end" stroke="#3a3a3a" stroke-width="0.25">60</text>
<line x1="222.66" x2="222.66" y1="253.9" y2="255.20000000000002" stroke="#333" stroke-width="0.5"/>
<text x="223.46" y="265.10" font-size="7.2" fill="#3a3a3a" text-anchor="middle" stroke="#3a3a3a" stroke-width="0.25">60</text>
<line x1="162.10" x2="163.40" y1="176.64" y2="176.64" stroke="#333" stroke-width="0.5"/>
<text x="157.60" y="178.54" font-size="7.2" fill="#3a3a3a" text-anchor="end" stroke="#3a3a3a" stroke-width="0.25">80</text>
<line x1="241.18" x2="241.18" y1="253.9" y2="255.20000000000002" stroke="#333" stroke-width="0.5"/>
<text x="241.98" y="265.10" font-size="7.2" fill="#3a3a3a" text-anchor="middle" stroke="#3a3a3a" stroke-width="0.25">80</text>
<line x1="162.10" x2="163.40" y1="158.20" y2="158.20" stroke="#333" stroke-width="0.5"/>
<text x="159.50" y="160.10" font-size="7.2" fill="#3a3a3a" text-anchor="end" stroke="#3a3a3a" stroke-width="0.25">100</text>
<line x1="259.70" x2="259.70" y1="253.9" y2="255.20000000000002" stroke="#333" stroke-width="0.5"/>
<text x="260.50" y="265.10" font-size="7.2" fill="#3a3a3a" text-anchor="middle" stroke="#3a3a3a" stroke-width="0.25">100</text>
<text transform="translate(141.10,149.80) scale(1.0,1.07)" font-size="20.8" fill="#000" text-anchor="start" >D</text>
<text x="207.30" y="150.60" font-size="11.6" fill="#000" text-anchor="middle" >GSE7305</text>
<text x="213.40" y="275.10" font-size="9.4" fill="#000" text-anchor="middle" >Specificity (%)</text>
<text transform="translate(146.60,202.00) rotate(-90)" font-size="9.4" text-anchor="middle" fill="#000">Sensitivity (%)</text>
<line x1="302.8" x2="402.4" y1="250.40" y2="250.40" stroke="#f0f0f0" stroke-width="0.6"/>
<line x1="306.50" x2="306.50" y1="154.8" y2="253.9" stroke="#f0f0f0" stroke-width="0.6"/>
<line x1="302.8" x2="402.4" y1="241.18" y2="241.18" stroke="#f7f7f7" stroke-width="0.6"/>
<line x1="315.74" x2="315.74" y1="154.8" y2="253.9" stroke="#f7f7f7" stroke-width="0.6"/>
<line x1="302.8" x2="402.4" y1="231.96" y2="231.96" stroke="#f0f0f0" stroke-width="0.6"/>
<line x1="324.98" x2="324.98" y1="154.8" y2="253.9" stroke="#f0f0f0" stroke-width="0.6"/>
<line x1="302.8" x2="402.4" y1="222.74" y2="222.74" stroke="#f7f7f7" stroke-width="0.6"/>
<line x1="334.22" x2="334.22" y1="154.8" y2="253.9" stroke="#f7f7f7" stroke-width="0.6"/>
<line x1="302.8" x2="402.4" y1="213.52" y2="213.52" stroke="#f0f0f0" stroke-width="0.6"/>
<line x1="343.46" x2="343.46" y1="154.8" y2="253.9" stroke="#f0f0f0" stroke-width="0.6"/>
<line x1="302.8" x2="402.4" y1="204.30" y2="204.30" stroke="#f7f7f7" stroke-width="0.6"/>
<line x1="352.70" x2="352.70" y1="154.8" y2="253.9" stroke="#f7f7f7" stroke-width="0.6"/>
<line x1="302.8" x2="402.4" y1="195.08" y2="195.08" stroke="#f0f0f0" stroke-width="0.6"/>
<line x1="361.94" x2="361.94" y1="154.8" y2="253.9" stroke="#f0f0f0" stroke-width="0.6"/>
<line x1="302.8" x2="402.4" y1="185.86" y2="185.86" stroke="#f7f7f7" stroke-width="0.6"/>
<line x1="371.18" x2="371.18" y1="154.8" y2="253.9" stroke="#f7f7f7" stroke-width="0.6"/>
<line x1="302.8" x2="402.4" y1="176.64" y2="176.64" stroke="#f0f0f0" stroke-width="0.6"/>
<line x1="380.42" x2="380.42" y1="154.8" y2="253.9" stroke="#f0f0f0" stroke-width="0.6"/>
<line x1="302.8" x2="402.4" y1="167.42" y2="167.42" stroke="#f7f7f7" stroke-width="0.6"/>
<line x1="389.66" x2="389.66" y1="154.8" y2="253.9" stroke="#f7f7f7" stroke-width="0.6"/>
<line x1="302.8" x2="402.4" y1="158.20" y2="158.20" stroke="#f0f0f0" stroke-width="0.6"/>
<line x1="398.90" x2="398.90" y1="154.8" y2="253.9" stroke="#f0f0f0" stroke-width="0.6"/>
<polygon points="306.50,250.40 306.50,166.59 323.32,166.59 323.32,158.20 398.90,158.20 398.90,250.40" fill="#dcdcdc" stroke="none"/>
<polyline points="306.50,250.40 398.90,250.40 398.90,158.20" fill="none" stroke="#8e8e8e" stroke-width="0.9"/>
<line x1="306.50" y1="250.40" x2="398.90" y2="158.20" stroke="#a4a4a4" stroke-width="0.5"/>
<polyline points="306.50,250.40 306.50,166.59 323.32,166.59 323.32,158.20 398.90,158.20" fill="none" stroke="#5cd2d2" stroke-width="1.0"/>
<rect x="302.80" y="154.8" width="99.60" height="99.10" fill="none" stroke="#d2d2d2" stroke-width="0.9"/>
<polyline points="302.80,154.8 302.80,253.9 402.40,253.9" fill="none" stroke="#b4b4b4" stroke-width="0.9"/>
<circle cx="306.50" cy="166.59" r="0.8" fill="#000"/>
<text x="308.60" y="170.69" font-size="4.4" fill="#333" text-anchor="start" >4.1 (100.0%, 90.9%)</text>
<text x="353.30" y="207.90" font-size="4.45" fill="#3cc8c8" text-anchor="start" >AUC: 98.3%</text>
<line x1="301.50" x2="302.80" y1="250.40" y2="250.40" stroke="#333" stroke-width="0.5"/>
<text x="296.90" y="252.10" font-size="7.2" fill="#3a3a3a" text-anchor="end" stroke="#3a3a3a" stroke-width="0.25">0</text>
<line x1="306.50" x2="306.50" y1="253.9" y2="255.20000000000002" stroke="#333" stroke-width="0.5"/>
<text x="307.30" y="265.10" font-size="7.2" fill="#3a3a3a" text-anchor="middle" stroke="#3a3a3a" stroke-width="0.25">0</text>
<line x1="301.50" x2="302.80" y1="231.96" y2="231.96" stroke="#333" stroke-width="0.5"/>
<text x="296.90" y="233.66" font-size="7.2" fill="#3a3a3a" text-anchor="end" stroke="#3a3a3a" stroke-width="0.25">20</text>
<line x1="324.98" x2="324.98" y1="253.9" y2="255.20000000000002" stroke="#333" stroke-width="0.5"/>
<text x="325.78" y="265.10" font-size="7.2" fill="#3a3a3a" text-anchor="middle" stroke="#3a3a3a" stroke-width="0.25">20</text>
<line x1="301.50" x2="302.80" y1="213.52" y2="213.52" stroke="#333" stroke-width="0.5"/>
<text x="296.90" y="215.22" font-size="7.2" fill="#3a3a3a" text-anchor="end" stroke="#3a3a3a" stroke-width="0.25">40</text>
<line x1="343.46" x2="343.46" y1="253.9" y2="255.20000000000002" stroke="#333" stroke-width="0.5"/>
<text x="344.26" y="265.10" font-size="7.2" fill="#3a3a3a" text-anchor="middle" stroke="#3a3a3a" stroke-width="0.25">40</text>
<line x1="301.50" x2="302.80" y1="195.08" y2="195.08" stroke="#333" stroke-width="0.5"/>
<text x="296.90" y="196.78" font-size="7.2" fill="#3a3a3a" text-anchor="end" stroke="#3a3a3a" stroke-width="0.25">60</text>
<line x1="361.94" x2="361.94" y1="253.9" y2="255.20000000000002" stroke="#333" stroke-width="0.5"/>
<text x="362.74" y="265.10" font-size="7.2" fill="#3a3a3a" text-anchor="middle" stroke="#3a3a3a" stroke-width="0.25">60</text>
<line x1="301.50" x2="302.80" y1="176.64" y2="176.64" stroke="#333" stroke-width="0.5"/>
<text x="296.90" y="178.34" font-size="7.2" fill="#3a3a3a" text-anchor="end" stroke="#3a3a3a" stroke-width="0.25">80</text>
<line x1="380.42" x2="380.42" y1="253.9" y2="255.20000000000002" stroke="#333" stroke-width="0.5"/>
<text x="381.22" y="265.10" font-size="7.2" fill="#3a3a3a" text-anchor="middle" stroke="#3a3a3a" stroke-width="0.25">80</text>
<line x1="301.50" x2="302.80" y1="158.20" y2="158.20" stroke="#333" stroke-width="0.5"/>
<text x="298.80" y="159.90" font-size="7.2" fill="#3a3a3a" text-anchor="end" stroke="#3a3a3a" stroke-width="0.25">100</text>
<line x1="398.90" x2="398.90" y1="253.9" y2="255.20000000000002" stroke="#333" stroke-width="0.5"/>
<text x="399.70" y="265.10" font-size="7.2" fill="#3a3a3a" text-anchor="middle" stroke="#3a3a3a" stroke-width="0.25">100</text>
<text transform="translate(278.50,150.40) scale(1.0,1.07)" font-size="20.8" fill="#000" text-anchor="start" >F</text>
<text x="347.10" y="150.60" font-size="11.6" fill="#000" text-anchor="middle" >GSE5108</text>
<text x="352.70" y="275.10" font-size="9.4" fill="#000" text-anchor="middle" >Specificity (%)</text>
<text transform="translate(285.80,200.10) rotate(-90)" font-size="9.4" text-anchor="middle" fill="#000">Sensitivity (%)</text>
<line x1="442.3" x2="541.9" y1="250.40" y2="250.40" stroke="#f0f0f0" stroke-width="0.6"/>
<line x1="446.00" x2="446.00" y1="154.8" y2="253.9" stroke="#f0f0f0" stroke-width="0.6"/>
<line x1="442.3" x2="541.9" y1="241.18" y2="241.18" stroke="#f7f7f7" stroke-width="0.6"/>
<line x1="455.24" x2="455.24" y1="154.8" y2="253.9" stroke="#f7f7f7" stroke-width="0.6"/>
<line x1="442.3" x2="541.9" y1="231.96" y2="231.96" stroke="#f0f0f0" stroke-width="0.6"/>
<line x1="464.48" x2="464.48" y1="154.8" y2="253.9" stroke="#f0f0f0" stroke-width="0.6"/>
<line x1="442.3" x2="541.9" y1="222.74" y2="222.74" stroke="#f7f7f7" stroke-width="0.6"/>
<line x1="473.72" x2="473.72" y1="154.8" y2="253.9" stroke="#f7f7f7" stroke-width="0.6"/>
<line x1="442.3" x2="541.9" y1="213.52" y2="213.52" stroke="#f0f0f0" stroke-width="0.6"/>
<line x1="482.96" x2="482.96" y1="154.8" y2="253.9" stroke="#f0f0f0" stroke-width="0.6"/>
<line x1="442.3" x2="541.9" y1="204.30" y2="204.30" stroke="#f7f7f7" stroke-width="0.6"/>
<line x1="492.20" x2="492.20" y1="154.8" y2="253.9" stroke="#f7f7f7" stroke-width="0.6"/>
<line x1="442.3" x2="541.9" y1="195.08" y2="195.08" stroke="#f0f0f0" stroke-width="0.6"/>
<line x1="501.44" x2="501.44" y1="154.8" y2="253.9" stroke="#f0f0f0" stroke-width="0.6"/>
<line x1="442.3" x2="541.9" y1="185.86" y2="185.86" stroke="#f7f7f7" stroke-width="0.6"/>
<line x1="510.68" x2="510.68" y1="154.8" y2="253.9" stroke="#f7f7f7" stroke-width="0.6"/>
<line x1="442.3" x2="541.9" y1="176.64" y2="176.64" stroke="#f0f0f0" stroke-width="0.6"/>
<line x1="519.92" x2="519.92" y1="154.8" y2="253.9" stroke="#f0f0f0" stroke-width="0.6"/>
<line x1="442.3" x2="541.9" y1="167.42" y2="167.42" stroke="#f7f7f7" stroke-width="0.6"/>
<line x1="529.16" x2="529.16" y1="154.8" y2="253.9" stroke="#f7f7f7" stroke-width="0.6"/>
<line x1="442.3" x2="541.9" y1="158.20" y2="158.20" stroke="#f0f0f0" stroke-width="0.6"/>
<line x1="538.40" x2="538.40" y1="154.8" y2="253.9" stroke="#f0f0f0" stroke-width="0.6"/>
<polygon points="446.00,250.40 446.00,195.08 456.26,195.08 456.26,158.20 538.40,158.20 538.40,250.40" fill="#dcdcdc" stroke="none"/>
<polyline points="446.00,250.40 538.40,250.40 538.40,158.20" fill="none" stroke="#8e8e8e" stroke-width="0.9"/>
<line x1="446.00" y1="250.40" x2="538.40" y2="158.20" stroke="#a4a4a4" stroke-width="0.5"/>
<polyline points="446.00,250.40 446.00,195.08 456.26,195.08 456.26,158.20 538.40,158.20" fill="none" stroke="#5cd2d2" stroke-width="1.0"/>
<rect x="442.30" y="154.8" width="99.60" height="99.10" fill="none" stroke="#d2d2d2" stroke-width="0.9"/>
<polyline points="442.30,154.8 442.30,253.9 541.90,253.9" fill="none" stroke="#b4b4b4" stroke-width="0.9"/>
<circle cx="456.26" cy="158.20" r="0.8" fill="#000"/>
<text x="458.36" y="162.30" font-size="4.4" fill="#333" text-anchor="start" >7.4 (88.9%, 100.0%)</text>
<text x="492.80" y="207.90" font-size="4.45" fill="#3cc8c8" text-anchor="start" >AUC: 95.6%</text>
<line x1="441.00" x2="442.30" y1="250.40" y2="250.40" stroke="#333" stroke-width="0.5"/>
<text x="437.60" y="253.00" font-size="7.2" fill="#3a3a3a" text-anchor="end" stroke="#3a3a3a" stroke-width="0.25">0</text>
<line x1="446.00" x2="446.00" y1="253.9" y2="255.20000000000002" stroke="#333" stroke-width="0.5"/>
<text x="446.80" y="265.10" font-size="7.2" fill="#3a3a3a" text-anchor="middle" stroke="#3a3a3a" stroke-width="0.25">0</text>
<line x1="441.00" x2="442.30" y1="231.96" y2="231.96" stroke="#333" stroke-width="0.5"/>
<text x="437.60" y="234.56" font-size="7.2" fill="#3a3a3a" text-anchor="end" stroke="#3a3a3a" stroke-width="0.25">20</text>
<line x1="464.48" x2="464.48" y1="253.9" y2="255.20000000000002" stroke="#333" stroke-width="0.5"/>
<text x="465.28" y="265.10" font-size="7.2" fill="#3a3a3a" text-anchor="middle" stroke="#3a3a3a" stroke-width="0.25">20</text>
<line x1="441.00" x2="442.30" y1="213.52" y2="213.52" stroke="#333" stroke-width="0.5"/>
<text x="437.60" y="216.12" font-size="7.2" fill="#3a3a3a" text-anchor="end" stroke="#3a3a3a" stroke-width="0.25">40</text>
<line x1="482.96" x2="482.96" y1="253.9" y2="255.20000000000002" stroke="#333" stroke-width="0.5"/>
<text x="483.76" y="265.10" font-size="7.2" fill="#3a3a3a" text-anchor="middle" stroke="#3a3a3a" stroke-width="0.25">40</text>
<line x1="441.00" x2="442.30" y1="195.08" y2="195.08" stroke="#333" stroke-width="0.5"/>
<text x="437.60" y="197.68" font-size="7.2" fill="#3a3a3a" text-anchor="end" stroke="#3a3a3a" stroke-width="0.25">60</text>
<line x1="501.44" x2="501.44" y1="253.9" y2="255.20000000000002" stroke="#333" stroke-width="0.5"/>
<text x="502.24" y="265.10" font-size="7.2" fill="#3a3a3a" text-anchor="middle" stroke="#3a3a3a" stroke-width="0.25">60</text>
<line x1="441.00" x2="442.30" y1="176.64" y2="176.64" stroke="#333" stroke-width="0.5"/>
<text x="437.60" y="179.24" font-size="7.2" fill="#3a3a3a" text-anchor="end" stroke="#3a3a3a" stroke-width="0.25">80</text>
<line x1="519.92" x2="519.92" y1="253.9" y2="255.20000000000002" stroke="#333" stroke-width="0.5"/>
<text x="520.72" y="265.10" font-size="7.2" fill="#3a3a3a" text-anchor="middle" stroke="#3a3a3a" stroke-width="0.25">80</text>
<line x1="441.00" x2="442.30" y1="158.20" y2="158.20" stroke="#333" stroke-width="0.5"/>
<text x="439.50" y="160.80" font-size="7.2" fill="#3a3a3a" text-anchor="end" stroke="#3a3a3a" stroke-width="0.25">100</text>
<line x1="538.40" x2="538.40" y1="253.9" y2="255.20000000000002" stroke="#333" stroke-width="0.5"/>
<text x="539.20" y="265.10" font-size="7.2" fill="#3a3a3a" text-anchor="middle" stroke="#3a3a3a" stroke-width="0.25">100</text>
<text transform="translate(415.10,150.40) scale(1.0,1.07)" font-size="20.8" fill="#000" text-anchor="start" >H</text>
<text x="485.20" y="150.60" font-size="11.6" fill="#000" text-anchor="middle" >GSE23339</text>
<text x="492.20" y="275.10" font-size="9.4" fill="#000" text-anchor="middle" >Specificity (%)</text>
<text transform="translate(426.30,199.50) rotate(-90)" font-size="9.4" text-anchor="middle" fill="#000">Sensitivity (%)</text>
<line x1="581.0999999999999" x2="680.9" y1="250.40" y2="250.40" stroke="#f0f0f0" stroke-width="0.6"/>
<line x1="584.80" x2="584.80" y1="154.8" y2="253.9" stroke="#f0f0f0" stroke-width="0.6"/>
<line x1="581.0999999999999" x2="680.9" y1="241.18" y2="241.18" stroke="#f7f7f7" stroke-width="0.6"/>
<line x1="594.06" x2="594.06" y1="154.8" y2="253.9" stroke="#f7f7f7" stroke-width="0.6"/>
<line x1="581.0999999999999" x2="680.9" y1="231.96" y2="231.96" stroke="#f0f0f0" stroke-width="0.6"/>
<line x1="603.32" x2="603.32" y1="154.8" y2="253.9" stroke="#f0f0f0" stroke-width="0.6"/>
<line x1="581.0999999999999" x2="680.9" y1="222.74" y2="222.74" stroke="#f7f7f7" stroke-width="0.6"/>
<line x1="612.58" x2="612.58" y1="154.8" y2="253.9" stroke="#f7f7f7" stroke-width="0.6"/>
<line x1="581.0999999999999" x2="680.9" y1="213.52" y2="213.52" stroke="#f0f0f0" stroke-width="0.6"/>
<line x1="621.84" x2="621.84" y1="154.8" y2="253.9" stroke="#f0f0f0" stroke-width="0.6"/>
<line x1="581.0999999999999" x2="680.9" y1="204.30" y2="204.30" stroke="#f7f7f7" stroke-width="0.6"/>
<line x1="631.10" x2="631.10" y1="154.8" y2="253.9" stroke="#f7f7f7" stroke-width="0.6"/>
<line x1="581.0999999999999" x2="680.9" y1="195.08" y2="195.08" stroke="#f0f0f0" stroke-width="0.6"/>
<line x1="640.36" x2="640.36" y1="154.8" y2="253.9" stroke="#f0f0f0" stroke-width="0.6"/>
<line x1="581.0999999999999" x2="680.9" y1="185.86" y2="185.86" stroke="#f7f7f7" stroke-width="0.6"/>
<line x1="649.62" x2="649.62" y1="154.8" y2="253.9" stroke="#f7f7f7" stroke-width="0.6"/>
<line x1="581.0999999999999" x2="680.9" y1="176.64" y2="176.64" stroke="#f0f0f0" stroke-width="0.6"/>
<line x1="658.88" x2="658.88" y1="154.8" y2="253.9" stroke="#f0f0f0" stroke-width="0.6"/>
<line x1="581.0999999999999" x2="680.9" y1="167.42" y2="167.42" stroke="#f7f7f7" stroke-width="0.6"/>
<line x1="668.14" x2="668.14" y1="154.8" y2="253.9" stroke="#f7f7f7" stroke-width="0.6"/>
<line x1="581.0999999999999" x2="680.9" y1="158.20" y2="158.20" stroke="#f0f0f0" stroke-width="0.6"/>
<line x1="677.40" x2="677.40" y1="154.8" y2="253.9" stroke="#f0f0f0" stroke-width="0.6"/>
<polygon points="584.80,250.40 584.80,195.08 595.08,195.08 595.08,158.20 677.40,158.20 677.40,250.40" fill="#dcdcdc" stroke="none"/>
<polyline points="584.80,250.40 677.40,250.40 677.40,158.20" fill="none" stroke="#8e8e8e" stroke-width="0.9"/>
<line x1="584.80" y1="250.40" x2="677.40" y2="158.20" stroke="#a4a4a4" stroke-width="0.5"/>
<polyline points="584.80,250.40 584.80,195.08 595.08,195.08 595.08,158.20 677.40,158.20" fill="none" stroke="#5cd2d2" stroke-width="1.0"/>
<rect x="581.10" y="154.8" width="99.80" height="99.10" fill="none" stroke="#d2d2d2" stroke-width="0.9"/>
<polyline points="581.10,154.8 581.10,253.9 680.90,253.9" fill="none" stroke="#b4b4b4" stroke-width="0.9"/>
<circle cx="595.08" cy="158.20" r="0.8" fill="#000"/>
<text x="597.18" y="162.30" font-size="4.4" fill="#333" text-anchor="start" >7.4 (88.9%, 100.0%)</text>
<text x="631.70" y="207.90" font-size="4.45" fill="#3cc8c8" text-anchor="start" >AUC: 95.6%</text>
<line x1="579.80" x2="581.10" y1="250.40" y2="250.40" stroke="#333" stroke-width="0.5"/>
<text x="576.50" y="252.80" font-size="7.2" fill="#3a3a3a" text-anchor="end" stroke="#3a3a3a" stroke-width="0.25">0</text>
<line x1="584.80" x2="584.80" y1="253.9" y2="255.20000000000002" stroke="#333" stroke-width="0.5"/>
<text x="585.60" y="265.10" font-size="7.2" fill="#3a3a3a" text-anchor="middle" stroke="#3a3a3a" stroke-width="0.25">0</text>
<line x1="579.80" x2="581.10" y1="231.96" y2="231.96" stroke="#333" stroke-width="0.5"/>
<text x="576.50" y="234.36" font-size="7.2" fill="#3a3a3a" text-anchor="end" stroke="#3a3a3a" stroke-width="0.25">20</text>
<line x1="603.32" x2="603.32" y1="253.9" y2="255.20000000000002" stroke="#333" stroke-width="0.5"/>
<text x="604.12" y="265.10" font-size="7.2" fill="#3a3a3a" text-anchor="middle" stroke="#3a3a3a" stroke-width="0.25">20</text>
<line x1="579.80" x2="581.10" y1="213.52" y2="213.52" stroke="#333" stroke-width="0.5"/>
<text x="576.50" y="215.92" font-size="7.2" fill="#3a3a3a" text-anchor="end" stroke="#3a3a3a" stroke-width="0.25">40</text>
<line x1="621.84" x2="621.84" y1="253.9" y2="255.20000000000002" stroke="#333" stroke-width="0.5"/>
<text x="622.64" y="265.10" font-size="7.2" fill="#3a3a3a" text-anchor="middle" stroke="#3a3a3a" stroke-width="0.25">40</text>
<line x1="579.80" x2="581.10" y1="195.08" y2="195.08" stroke="#333" stroke-width="0.5"/>
<text x="576.50" y="197.48" font-size="7.2" fill="#3a3a3a" text-anchor="end" stroke="#3a3a3a" stroke-width="0.25">60</text>
<line x1="640.36" x2="640.36" y1="253.9" y2="255.20000000000002" stroke="#333" stroke-width="0.5"/>
<text x="641.16" y="265.10" font-size="7.2" fill="#3a3a3a" text-anchor="middle" stroke="#3a3a3a" stroke-width="0.25">60</text>
<line x1="579.80" x2="581.10" y1="176.64" y2="176.64" stroke="#333" stroke-width="0.5"/>
<text x="576.50" y="179.04" font-size="7.2" fill="#3a3a3a" text-anchor="end" stroke="#3a3a3a" stroke-width="0.25">80</text>
<line x1="658.88" x2="658.88" y1="253.9" y2="255.20000000000002" stroke="#333" stroke-width="0.5"/>
<text x="659.68" y="265.10" font-size="7.2" fill="#3a3a3a" text-anchor="middle" stroke="#3a3a3a" stroke-width="0.25">80</text>
<line x1="579.80" x2="581.10" y1="158.20" y2="158.20" stroke="#333" stroke-width="0.5"/>
<text x="578.40" y="160.60" font-size="7.2" fill="#3a3a3a" text-anchor="end" stroke="#3a3a3a" stroke-width="0.25">100</text>
<line x1="677.40" x2="677.40" y1="253.9" y2="255.20000000000002" stroke="#333" stroke-width="0.5"/>
<text x="678.20" y="265.10" font-size="7.2" fill="#3a3a3a" text-anchor="middle" stroke="#3a3a3a" stroke-width="0.25">100</text>
<text transform="translate(557.70,151.60) scale(1.0,1.07)" font-size="20.8" fill="#000" text-anchor="start" >J</text>
<text x="623.80" y="150.60" font-size="11.6" fill="#000" text-anchor="middle" >GSE25628</text>
<text x="631.10" y="275.10" font-size="9.4" fill="#000" text-anchor="middle" >Specificity (%)</text>
<text transform="translate(566.70,198.80) rotate(-90)" font-size="9.4" text-anchor="middle" fill="#000">Sensitivity (%)</text>
</svg></body></html>
